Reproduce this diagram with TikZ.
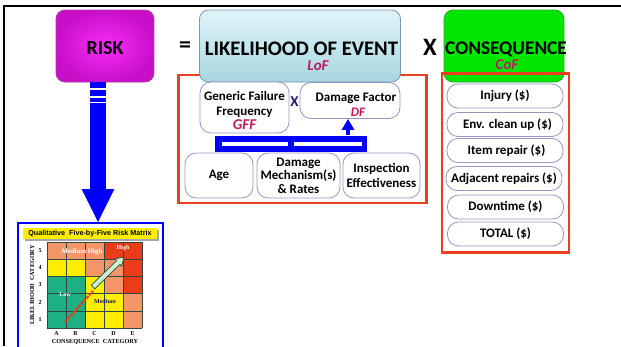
\documentclass[tikz,border=0pt]{standalone}
\usepackage{fontspec}
\setmainfont{Carlito}
\newfontfamily\tmsfont{Liberation Serif}
\newfontfamily\arlfont{Liberation Sans}
\usetikzlibrary{arrows.meta}
\definecolor{crim}{RGB}{192,24,88}
\definecolor{frameRed}{RGB}{232,64,32}
\definecolor{pillBorder}{RGB}{150,150,195}
\definecolor{magL}{RGB}{248,45,248}
\definecolor{magD}{RGB}{200,15,200}
\definecolor{magBorder}{RGB}{170,60,170}
\definecolor{cyanT}{RGB}{224,245,249}
\definecolor{cyanB}{RGB}{168,214,225}
\definecolor{cyanBorder}{RGB}{120,150,190}
\definecolor{grn}{RGB}{0,230,0}
\definecolor{grnBorder}{RGB}{40,170,40}
\definecolor{navyX}{RGB}{30,30,110}
\definecolor{mSal}{RGB}{245,150,105}
\definecolor{mRed}{RGB}{235,60,25}
\definecolor{mYel}{RGB}{255,238,0}
\definecolor{mGrn}{RGB}{30,175,130}
\definecolor{mLine}{RGB}{50,70,70}
\definecolor{arrowGrn}{RGB}{205,240,205}
\definecolor{pureBlue}{RGB}{0,0,250}
\definecolor{mNavy}{RGB}{20,20,110}
\begin{document}
\begin{tikzpicture}[x=1pt,y=-1pt,
  bigbox/.style={rounded corners=9pt, line width=0.8pt, inner sep=0pt},
  wbox/.style={draw=pillBorder, fill=white, rounded corners=11pt, line width=0.8pt, inner sep=0pt, align=center, font=\bfseries\fontsize{13}{14}\selectfont},
  pill/.style={wbox, rounded corners=11pt, minimum width=116pt, minimum height=24pt},
  redframe/.style={draw=frameRed, line width=2.3pt},
  crimlbl/.style={font=\bfseries\itshape\fontsize{15}{16}\selectfont, text=crim, inner sep=0pt},
  bigtxt/.style={font=\bfseries\fontsize{20}{22}\selectfont, inner sep=0pt},
  mtxt/.style={font=\tmsfont\bfseries\fontsize{6}{7}\selectfont, inner sep=0pt}
]
\useasboundingbox (0,0) rectangle (621,346);
\fill[white] (0,0) rectangle (621,346);
% outer frame
\draw[black, line width=1.6pt] (4,346) -- (4,6) -- (621,6);

% RISK
\node[bigbox, draw=magBorder, inner color=magL, outer color=magD, minimum width=98pt, minimum height=72pt] (risk) at (105,46) {};
\node[bigtxt] (risktxt) at (105,48) {RISK};
\node[font=\bfseries\fontsize{24}{26}\selectfont, inner sep=0pt] (eq) at (185,47) {=};

% LoF frame and box
\node[redframe, minimum width=248pt, minimum height=128pt, inner sep=0pt] (lofframe) at (302.5,139) {};
\node[bigbox, draw=cyanBorder, top color=cyanT, bottom color=cyanB, minimum width=201pt, minimum height=72pt] (lof) at (300,46) {};
\node[font=\bfseries\fontsize{20.7}{22}\selectfont, inner sep=0pt] (loftxt) at (301.5,49) {LIKELIHOOD OF EVENT};
\node[crimlbl] (loflbl) at (318,66) {LoF};

\node[font=\bfseries\fontsize{25}{26}\selectfont, inner sep=0pt] (xbig) at (430,47) {X};

% CoF box and frame
\node[bigbox, draw=grnBorder, fill=grn, minimum width=120pt, minimum height=72pt] (cof) at (504,46) {};
\node[font=\bfseries\fontsize{19.3}{21}\selectfont, inner sep=0pt] (coftxt) at (506,49) {CONSEQUENCE};
\node[crimlbl] (coflbl) at (507,65) {CoF};
\node[redframe, minimum width=127pt, minimum height=179pt, inner sep=0pt] (cofframe) at (505.5,163) {};

% LoF contents
\node[wbox, minimum width=89pt, minimum height=51pt] (gff) at (244.5,107.5) {};
\node[font=\bfseries\fontsize{13}{15}\selectfont, align=center, inner sep=0pt] (gfftxt) at (244.5,110) {Generic Failure\\Frequency\\[-1pt]{\fontsize{15}{15}\selectfont\itshape\color{crim}GFF}};
\node[font=\bfseries\fontsize{15}{16}\selectfont, text=navyX, inner sep=0pt] (xsmall) at (294.5,102) {X};
\node[wbox, minimum width=100pt, minimum height=36pt] (df) at (350,100.5) {};
\node[font=\bfseries\fontsize{13}{14}\selectfont, inner sep=0pt] (dftxt) at (356,98) {Damage Factor};
\node[crimlbl, font=\bfseries\itshape\fontsize{13}{14}\selectfont] (dflbl) at (358,112) {DF};

\node[wbox, minimum width=68pt, minimum height=45pt] (age) at (219,175.5) {Age};
\node[wbox, minimum width=83pt, minimum height=45pt, font=\bfseries\fontsize{13}{13.5}\selectfont] (dm) at (298.5,175.5) {Damage\\Mechanism(s)\\\& Rates};
\node[wbox, minimum width=77pt, minimum height=45pt, font=\bfseries\fontsize{13}{15.5}\selectfont] (insp) at (381.5,175.5) {Inspection\\Effectiveness};

% blue bracket
\node[fill=pureBlue, minimum width=152pt, minimum height=16pt, inner sep=0pt] (bar) at (291,143.5) {};
\draw[white, line width=4pt] (222,143.5) -- (288,143.5);
\draw[white, line width=4pt] (294,143.5) -- (362,143.5);
\draw[pureBlue, line width=4pt, -{Triangle[width=12pt,length=11pt]}] (bar.north -| 348,0) -- (df.south -| 348,0);

% CoF contents
\node[pill] (inj) at (505,96) {Injury (\$)};
\node[pill] (env) at (505,124.5) {\hspace{5pt}Env. clean up (\$)};
\node[pill] (item) at (505,150.5) {\hspace{3pt}Item repair (\$)};
\node[pill] (adj) at (504,178.5) {Adjacent repairs (\$)};
\node[pill] (down) at (505.5,207) {Downtime (\$)};
\node[pill] (tot) at (505.5,234) {TOTAL (\$)};

% matrix picture
\node[draw=pureBlue, line width=2pt, fill=white, minimum width=145pt, minimum height=140pt, inner sep=0pt] (mbox) at (90.5,293) {};
\fill[gray!70] (25,230) rectangle (159,241);
\node[fill=mYel, minimum width=134pt, minimum height=11pt, inner sep=0pt, font=\arlfont\bfseries\fontsize{7.2}{8}\selectfont] (mtitle) at (90,233.5) {Qualitative\ \ Five-by-Five Risk Matrix};

% grid cells: rows from top (5) to bottom (1)
\def\cw{19}\def\ch{17.2}
\foreach \r/\cols in {0/{mSal,mSal,mSal,mRed,mRed},1/{mYel,mYel,mSal,mSal,mRed},2/{mGrn,mGrn,mYel,mSal,mRed},3/{mGrn,mGrn,mYel,mYel,mSal},4/{mGrn,mGrn,mYel,mYel,mSal}}{
  \foreach \cc [count=\c from 0] in \cols {
    \fill[\cc] (47+\c*\cw,242+\r*\ch) rectangle ++(\cw,\ch);
  }
}
\foreach \i in {0,...,5}{
  \draw[mLine, line width=0.6pt] (47+\i*\cw,242) -- (47+\i*\cw,328);
  \draw[mLine, line width=0.6pt] (47,242+\i*\ch) -- (142,242+\i*\ch);
}
\foreach \n [count=\k from 0] in {5,4,3,2,1}{
  \node[mtxt] (rn\n) at (40,250.6+\k*\ch) {\n};
}
\foreach \l [count=\k from 0] in {A,B,C,D,E}{
  \node[mtxt] (cl\l) at (56.5+\k*\cw,333.5) {\l};
}
\node[mtxt, font=\tmsfont\bfseries\fontsize{6.2}{7}\selectfont, rotate=90] (ylab) at (32,285) {LIKELIHOOD\ \ CATEGORY};
\node[mtxt, font=\tmsfont\bfseries\fontsize{6.2}{7}\selectfont] (xlab) at (95,342) {CONSEQUENCE\ \ CATEGORY};
\node[mtxt, text=white, font=\tmsfont\bfseries\fontsize{6.8}{7}\selectfont] (mh) at (82,252) {Medium High};
\node[mtxt, text=white] (hi) at (123,248) {High};
\node[mtxt, text=white] (lo) at (65,295) {Low};
\node[mtxt, text=mNavy] (me) at (105,301) {Medium};
\draw[mRed, line width=2.2pt, dash pattern=on 3pt off 1pt] (65,322) -- (93,291);
\draw[mLine, line width=0.7pt, fill=arrowGrn] (94.74,288.8) -- (119.99,264.36) -- (121.73,266.16) -- (124,257) -- (114.78,258.97) -- (116.51,260.76) -- (91.26,285.2) -- cycle;

% big blue arrow from RISK to matrix
\coordinate (aTop) at (98,82);
\coordinate (aBot) at (98,223);
\draw[pureBlue, line width=16pt, -{Triangle[width=30pt,length=34pt]}] (aTop) -- (aBot);
\draw[white, line width=1.1pt] (89,89) -- (107,89);
\draw[white, line width=1.1pt] (89,97) -- (107,97);
\draw[white, line width=1.1pt] (89,102.5) -- (107,102.5);
\end{tikzpicture}
\end{document}
